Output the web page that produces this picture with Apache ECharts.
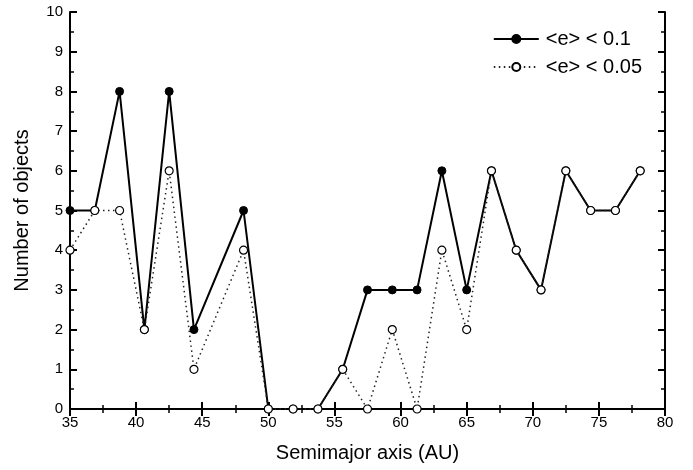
<!DOCTYPE html>
<html><head><meta charset="utf-8">
<script src="https://cdn.jsdelivr.net/npm/echarts@6/dist/echarts.min.js"></script>
<style>html,body{margin:0;padding:0;background:#fff}#c{width:693px;height:470px}</style>
</head><body><div id="c"></div>
<script>
const semimajor = [35, 36.875, 38.75, 40.625, 42.5, 44.375, 48.125, 50, 51.875, 53.75, 55.625, 57.5, 59.375, 61.25, 63.125, 65, 66.875, 68.75, 70.625, 72.5, 74.375, 76.25, 78.125];
const countE01 = [5, 5, 8, 2, 8, 2, 5, 0, 0, 0, 1, 3, 3, 3, 6, 3, 6, 4, 3, 6, 5, 5, 6];
const countE005 = [4, 5, 5, 2, 6, 1, 4, 0, 0, 0, 1, 0, 2, 0, 4, 2, 6, 4, 3, 6, 5, 5, 6];
const seriesNames = ['<e> < 0.1', '<e> < 0.05'];

const FONT = 'Liberation Sans';
const pairs = (ys) => semimajor.map((x, i) => [x, ys[i]]);
const axisCommon = {
  axisLine: {show: true, lineStyle: {color: '#000', width: 2}},
  axisTick: {show: true, inside: true, length: 7, lineStyle: {color: '#000', width: 2}},
  minorTick: {show: true, splitNumber: 2, length: 4, lineStyle: {color: '#000', width: 1.5}},
  splitLine: {show: false}
};
const chart = echarts.init(document.getElementById('c'), null, {renderer: 'canvas'});
chart.setOption({
  animation: false,
  backgroundColor: '#fff',
  grid: {left: 70, right: 28, top: 12, bottom: 61},
  legend: {
    right: 46, top: 24, orient: 'vertical', itemGap: 8, itemWidth: 45, itemHeight: 10,
    textStyle: {fontFamily: FONT, fontSize: 20, color: '#000', padding: [0, 0, 0, 2]},
    data: seriesNames
  },
  xAxis: [
    Object.assign({}, axisCommon, {
      type: 'value', min: 35, max: 80, interval: 5, position: 'bottom',
      name: 'Semimajor axis (AU)', nameLocation: 'middle', nameGap: 34,
      nameTextStyle: {fontFamily: FONT, fontSize: 20, color: '#000'},
      axisLabel: {fontFamily: FONT, fontSize: 15, color: '#000', margin: 6}
    }),
    Object.assign({}, axisCommon, {
      type: 'value', min: 35, max: 80, interval: 5, position: 'top',
      axisLabel: {show: false}
    })
  ],
  yAxis: [
    Object.assign({}, axisCommon, {
      type: 'value', min: 0, max: 10, interval: 1, position: 'left',
      name: 'Number of objects', nameLocation: 'middle', nameGap: 38, nameRotate: 90,
      nameTextStyle: {fontFamily: FONT, fontSize: 20, color: '#000'},
      axisLabel: {fontFamily: FONT, fontSize: 15, color: '#000', margin: 7}
    }),
    Object.assign({}, axisCommon, {
      type: 'value', min: 0, max: 10, interval: 1, position: 'right',
      axisLabel: {show: false}
    })
  ],
  series: [
    {
      name: seriesNames[0], type: 'line', data: pairs(countE01),
      symbol: 'circle', symbolSize: 8, showSymbol: true,
      lineStyle: {color: '#000', width: 2, type: 'solid'},
      itemStyle: {color: '#000', borderColor: '#000', borderWidth: 1},
      z: 2, clip: false
    },
    {
      name: seriesNames[1], type: 'line', data: pairs(countE005),
      symbol: 'circle', symbolSize: 8, showSymbol: true,
      lineStyle: {color: '#222', width: 1.5, type: [1.5, 3.5]},
      itemStyle: {color: '#fff', borderColor: '#000', borderWidth: 1.2},
      z: 3, clip: false
    }
  ]
});
</script></body></html>
